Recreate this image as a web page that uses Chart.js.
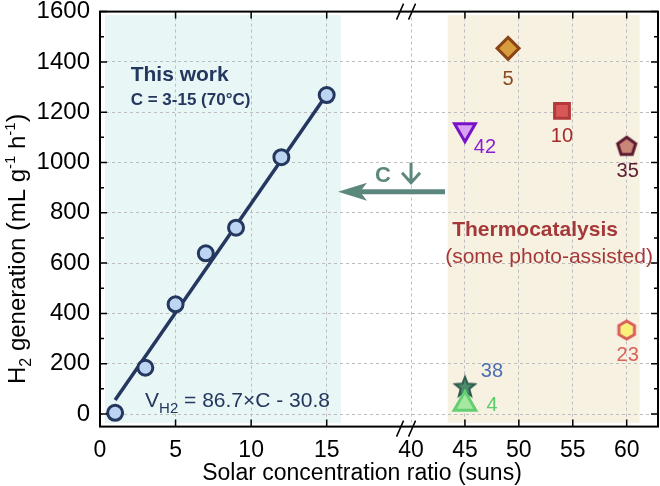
<!DOCTYPE html>
<html>
<head>
<meta charset="utf-8">
<script src="https://cdn.jsdelivr.net/npm/chart.js@4.4.0/dist/chart.umd.min.js"></script>
<style>
body { margin: 0; background: #fff; }
</style>
</head>
<body>
<canvas id="h2Chart" width="660" height="486"></canvas>
<script>
// Данные "This work"
const workC = [1, 3, 5, 7, 9, 12, 15];
const workH2 = [5, 184, 436, 639, 741, 1021, 1268];
const fitC = [1, 15];
const fitH2 = [56, 1270];

// Литературные данные (термокатализ)
const refNames = ['5', '10', '35', '42', '23', '38', '4'];
const refC = [49, 54, 60, 45, 60, 45, 45];
const refH2 = [1454, 1205, 1063, 1130, 334, 106, 40];

// Подписи осей
const xTickLabels = [0, 5, 10, 15, 40, 45, 50, 55, 60];
const yTickLabels = [0, 200, 400, 600, 800, 1000, 1200, 1400, 1600];
const yMinorTicks = [100, 300, 500, 700, 900, 1100, 1300, 1500];

const FONT = "'Liberation Sans', Arial, sans-serif";
const NAVY = '#24375e';
const TEAL = '#5b877c';
const THERMO = '#a5393a';

// Разрыв оси X: 0..20.58 как есть, дальше 40+ сжато
const BREAK_AT = 20.58;
const RIGHT_K = 0.7134;
function mapX(c) {
    return c < 30 ? c : BREAK_AT + (c - 40) * RIGHT_K;
}

// Фигуры, которых нет в Chart.js
function makeShape(n, rOut, rIn, fill, stroke, lw) {
    const cv = document.createElement('canvas');
    cv.width = 28;
    cv.height = 28;
    const c = cv.getContext('2d');
    const pts = rIn ? n * 2 : n;
    c.beginPath();
    for (let i = 0; i < pts; i++) {
        const a = -Math.PI / 2 + i * 2 * Math.PI / pts;
        const r = rIn && i % 2 ? rIn : rOut;
        const px = 14 + r * Math.cos(a);
        const py = 14 + r * Math.sin(a);
        if (i === 0) c.moveTo(px, py); else c.lineTo(px, py);
    }
    c.closePath();
    c.fillStyle = fill;
    c.fill();
    c.lineWidth = lw;
    c.lineJoin = 'miter';
    c.strokeStyle = stroke;
    c.stroke();
    return cv;
}

const refStyles = [
    { point: 'rectRot', r: 11, fill: '#d89c3c', line: '#8a4416', text: '#8a4a1f', dx: 0, dy: 31 },
    { point: 'rect', r: 10.5, fill: '#d95757', line: '#b33a3a', text: '#a52a2a', dx: 0, dy: 26 },
    { point: makeShape(5, 9.5, 0, '#c98578', '#5c1a30', 3), r: 10, text: '#5c1a33', dx: 1, dy: 25 },
    { point: 'triangle', rot: 180, r: 12, fill: '#d7a3f2', line: '#7a12c8', text: '#8a1fd1', dx: 20, dy: 18 },
    { point: makeShape(6, 9, 0, '#f8f27c', '#d9605a', 3), r: 10, text: '#d9625c', dx: 1, dy: 25 },
    { point: makeShape(5, 10.5, 4.5, '#4d8b6d', '#2f5a4d', 2), r: 10, text: '#4b6fb3', dx: 27, dy: -16 },
    { point: 'triangle', r: 12.5, fill: '#a6e8a2', line: '#62cf70', text: '#5ccc6a', dx: 27, dy: 2 }
];

const datasets = [
    {
        label: 'This work',
        data: workC.map((c, i) => ({ x: mapX(c), y: workH2[i] })),
        pointStyle: 'circle',
        pointRadius: 7.5,
        pointBorderWidth: 3,
        pointBackgroundColor: '#bdd5f3',
        pointBorderColor: NAVY,
        showLine: false,
        order: 1
    },
    {
        label: 'fit',
        data: fitC.map((c, i) => ({ x: mapX(c), y: fitH2[i] })),
        showLine: true,
        borderColor: NAVY,
        borderWidth: 3.5,
        pointRadius: 0,
        order: 20
    }
];

refNames.forEach((name, i) => {
    const st = refStyles[i];
    datasets.push({
        label: name,
        data: [{ x: mapX(refC[i]), y: refH2[i] }],
        pointStyle: st.point,
        pointRotation: st.rot || 0,
        pointRadius: st.r,
        pointBorderWidth: 3,
        pointBackgroundColor: st.fill || '#000',
        pointBorderColor: st.line || '#000',
        showLine: false,
        order: 3 + (refNames.length - i)
    });
});

// Фоновые области
const areaPlugin = {
    id: 'areas',
    beforeDraw(chart) {
        const { ctx, scales: { x, y } } = chart;
        ctx.save();
        ctx.fillStyle = '#e8f6f6';
        ctx.fillRect(x.getPixelForValue(0.33), y.getPixelForValue(1586),
            x.getPixelForValue(15.95) - x.getPixelForValue(0.33), y.getPixelForValue(-35) - y.getPixelForValue(1586));
        ctx.fillStyle = '#f6f1e1';
        ctx.fillRect(x.getPixelForValue(mapX(43.4)), y.getPixelForValue(1586),
            x.getPixelForValue(mapX(61.2)) - x.getPixelForValue(mapX(43.4)), y.getPixelForValue(-35) - y.getPixelForValue(1586));
        ctx.restore();
    }
};

function richText(ctx, parts, x, y) {
    // parts: [текст, размер, смещение, жирный]
    let cx = x;
    parts.forEach(p => {
        ctx.font = (p[3] ? 'bold ' : '') + p[1] + 'px ' + FONT;
        ctx.fillText(p[0], cx, y + p[2]);
        cx += ctx.measureText(p[0]).width;
    });
}

// Рамка, внутренние засечки, разрыв, подписи
const framePlugin = {
    id: 'frame',
    afterDraw(chart) {
        const { ctx, chartArea: a, scales: { x, y } } = chart;
        ctx.save();
        ctx.strokeStyle = '#000';
        ctx.lineWidth = 2;
        ctx.strokeRect(a.left, a.top, a.right - a.left, a.bottom - a.top);

        ctx.lineWidth = 1.5;
        ctx.beginPath();
        yTickLabels.forEach(v => {
            const py = y.getPixelForValue(v);
            ctx.moveTo(a.left, py); ctx.lineTo(a.left + 7, py);
            ctx.moveTo(a.right, py); ctx.lineTo(a.right - 7, py);
        });
        yMinorTicks.forEach(v => {
            const py = y.getPixelForValue(v);
            ctx.moveTo(a.left, py); ctx.lineTo(a.left + 4, py);
            ctx.moveTo(a.right, py); ctx.lineTo(a.right - 4, py);
        });
        xTickLabels.forEach(v => {
            if (v === 0 || v === 40) return;
            const px = x.getPixelForValue(mapX(v));
            ctx.moveTo(px, a.top); ctx.lineTo(px, a.top + 7);
            ctx.moveTo(px, a.bottom); ctx.lineTo(px, a.bottom - 7);
        });
        ctx.stroke();

        // знак разрыва //
        const bx = x.getPixelForValue(BREAK_AT) - 5;
        ctx.lineWidth = 1.5;
        ctx.beginPath();
        [a.top, a.bottom + 2].forEach(cy => {
            [-6, 6].forEach(off => {
                ctx.moveTo(bx + off - 3.5, cy + 8);
                ctx.lineTo(bx + off + 3.5, cy - 8);
            });
        });
        ctx.stroke();

        // подписи оси X
        ctx.fillStyle = '#000';
        ctx.textAlign = 'center';
        ctx.textBaseline = 'alphabetic';
        ctx.font = '23px ' + FONT;
        xTickLabels.forEach(v => {
            ctx.fillText(String(v), x.getPixelForValue(mapX(v)), a.bottom + 30);
        });
        ctx.fillText('Solar concentration ratio (suns)', 362, 480);

        // подписи точек литературы
        ctx.textAlign = 'center';
        ctx.textBaseline = 'middle';
        ctx.font = '20px ' + FONT;
        refNames.forEach((name, i) => {
            const st = refStyles[i];
            ctx.fillStyle = st.text;
            ctx.fillText(name, x.getPixelForValue(mapX(refC[i])) + st.dx, y.getPixelForValue(refH2[i]) + st.dy);
        });

        // This work
        ctx.textAlign = 'left';
        ctx.textBaseline = 'alphabetic';
        ctx.fillStyle = NAVY;
        ctx.font = 'bold 21px ' + FONT;
        ctx.fillText('This work', x.getPixelForValue(2.03), y.getPixelForValue(1325));
        ctx.font = 'bold 17px ' + FONT;
        ctx.fillText('C = 3-15 (70°C)', x.getPixelForValue(2.03), y.getPixelForValue(1229));
        richText(ctx, [['V', 21, 0], ['H2', 15, 6], [' = 86.7×C - 30.8', 21, 0]],
            x.getPixelForValue(2.98), y.getPixelForValue(29));

        // Thermocatalysis
        ctx.textAlign = 'center';
        ctx.textBaseline = 'middle';
        ctx.fillStyle = THERMO;
        ctx.font = 'bold 21px ' + FONT;
        ctx.fillText('Thermocatalysis', x.getPixelForValue(mapX(51.5)), y.getPixelForValue(732));
        ctx.font = '21px ' + FONT;
        ctx.fillText('(some photo-assisted)', x.getPixelForValue(mapX(52.8)), y.getPixelForValue(625));

        // стрелка C ↓
        ctx.fillStyle = TEAL;
        ctx.strokeStyle = TEAL;
        ctx.font = 'bold 22px ' + FONT;
        ctx.textBaseline = 'alphabetic';
        const ay = y.getPixelForValue(884);
        const tipX = x.getPixelForValue(15.75);
        const tailX = x.getPixelForValue(mapX(43.15));
        ctx.fillText('C', tipX + 45, ay - 10);
        const dx = x.getPixelForValue(BREAK_AT);
        ctx.lineWidth = 3;
        ctx.beginPath();
        ctx.moveTo(dx, ay - 29); ctx.lineTo(dx, ay - 9);
        ctx.moveTo(dx - 9, ay - 19); ctx.lineTo(dx, ay - 9); ctx.lineTo(dx + 9, ay - 19);
        ctx.stroke();
        ctx.lineWidth = 5;
        ctx.beginPath();
        ctx.moveTo(tailX, ay); ctx.lineTo(tipX + 22, ay);
        ctx.stroke();
        ctx.beginPath();
        ctx.moveTo(tipX, ay);
        ctx.lineTo(tipX + 29, ay - 9);
        ctx.lineTo(tipX + 22, ay);
        ctx.lineTo(tipX + 29, ay + 9);
        ctx.closePath();
        ctx.fill();

        // подпись оси Y
        ctx.save();
        ctx.fillStyle = '#000';
        ctx.translate(25, 384);
        ctx.rotate(-Math.PI / 2);
        ctx.textAlign = 'left';
        richText(ctx, [['H', 24, 0], ['2', 16, 6], [' generation ', 24, 0], ['(', 26, 0], ['mL g', 24, 0],
            ['-1', 15, -10], [' h', 24, 0], ['-1', 15, -10], [')', 26, 0]], 0, 0);
        ctx.restore();

        ctx.restore();
    }
};

new Chart(document.getElementById('h2Chart').getContext('2d'), {
    type: 'scatter',
    data: { datasets },
    options: {
        responsive: false,
        animation: false,
        layout: { autoPadding: false, padding: { top: 11.6, right: 2, left: 0, bottom: 0 } },
        plugins: {
            legend: { display: false },
            tooltip: { enabled: false }
        },
        scales: {
            x: {
                type: 'linear',
                min: 0,
                max: 36.92,
                afterBuildTicks: s => { s.ticks = xTickLabels.map(v => ({ value: mapX(v) })); },
                afterFit: s => { s.height = 59.4; s.paddingLeft = 0; s.paddingRight = 0; },
                ticks: { display: false },
                grid: { color: '#bdbdbd', lineWidth: 1, drawTicks: false },
                border: { display: false, dash: [3, 3] }
            },
            y: {
                min: -50,
                max: 1600,
                afterBuildTicks: s => { s.ticks = yTickLabels.map(v => ({ value: v })); },
                afterFit: s => { s.width = 100; s.paddingTop = 0; s.paddingBottom = 0; },
                ticks: {
                    callback: v => String(v),
                    font: { family: FONT, size: 24 },
                    color: '#000',
                    padding: 10
                },
                grid: { color: '#bdbdbd', lineWidth: 1, drawTicks: false },
                border: { display: false, dash: [3, 3] }
            }
        }
    },
    plugins: [areaPlugin, framePlugin]
});
</script>
</body>
</html>
